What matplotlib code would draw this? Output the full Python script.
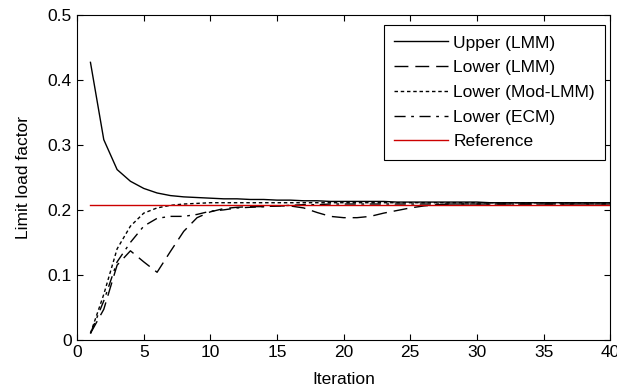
import matplotlib
matplotlib.use("Agg")
import matplotlib.pyplot as plt
import numpy as np

plt.rcParams["font.family"] = ["Liberation Sans", "DejaVu Sans"]

iterations = np.arange(1, 41)

upper_lmm = [0.427, 0.308, 0.262, 0.244, 0.233, 0.226, 0.222, 0.220, 0.219, 0.218,
             0.217, 0.217, 0.216, 0.216, 0.215, 0.215, 0.214, 0.214, 0.213, 0.213,
             0.213, 0.213, 0.213, 0.212, 0.212, 0.212, 0.212, 0.212, 0.212, 0.212,
             0.211, 0.211, 0.211, 0.211, 0.211, 0.211, 0.211, 0.211, 0.211, 0.211]

lower_lmm = [0.010, 0.047, 0.115, 0.137, 0.120, 0.104, 0.136, 0.167, 0.188, 0.197,
             0.202, 0.204, 0.205, 0.205, 0.206, 0.206, 0.203, 0.196, 0.190, 0.188,
             0.188, 0.190, 0.195, 0.199, 0.203, 0.206, 0.208, 0.209, 0.209, 0.209,
             0.209, 0.209, 0.209, 0.209, 0.209, 0.209, 0.209, 0.209, 0.209, 0.209]

lower_mod_lmm = [0.010, 0.070, 0.140, 0.175, 0.195, 0.203, 0.207, 0.209, 0.210, 0.211,
                 0.211, 0.211, 0.211, 0.211, 0.211, 0.211, 0.211, 0.211, 0.211, 0.211,
                 0.211, 0.211, 0.211, 0.211, 0.211, 0.211, 0.211, 0.211, 0.211, 0.211,
                 0.211, 0.211, 0.211, 0.211, 0.211, 0.211, 0.211, 0.211, 0.211, 0.211]

lower_ecm = [0.010, 0.060, 0.120, 0.150, 0.175, 0.187, 0.190, 0.190, 0.193, 0.198,
             0.200, 0.203, 0.204, 0.205, 0.206, 0.207, 0.208, 0.208, 0.209, 0.209,
             0.209, 0.209, 0.209, 0.209, 0.209, 0.209, 0.209, 0.209, 0.209, 0.209,
             0.209, 0.209, 0.209, 0.209, 0.209, 0.209, 0.209, 0.209, 0.209, 0.209]

reference = 0.207

fig = plt.figure(figsize=(6.17, 3.92), dpi=100)
ax = fig.add_axes([0.125, 0.133, 0.864, 0.829])

ax.plot(iterations, upper_lmm, color="black", linestyle="-", linewidth=1.0, label="Upper (LMM)")
ax.plot(iterations, lower_lmm, color="black", linestyle=(0, (10, 5)), linewidth=1.0, label="Lower (LMM)")
ax.plot(iterations, lower_mod_lmm, color="black", linestyle=(0, (2.5, 2)), linewidth=1.0, label="Lower (Mod-LMM)")
ax.plot(iterations, lower_ecm, color="black", linestyle=(0, (8, 4, 2, 4)), linewidth=1.0, label="Lower (ECM)")
ax.plot([1, 40], [reference, reference], color="#cc0000", linewidth=1.0, label="Reference")

ax.set_xlim(0, 40)
ax.set_ylim(0, 0.5)
ax.set_xticks(np.arange(0, 41, 5))
ax.set_yticks(np.arange(0, 0.51, 0.1))
ax.set_yticklabels(["0", "0.1", "0.2", "0.3", "0.4", "0.5"])
ax.tick_params(direction="in", top=True, right=True, labelsize=12.5, length=4, pad=4)
ax.set_xlabel("Iteration", fontsize=12.5, labelpad=8)
ax.set_ylabel("Limit load factor", fontsize=12.5, labelpad=12)

leg = ax.legend(loc="upper right", bbox_to_anchor=(0.991, 0.969), fontsize=12.5,
                fancybox=False, edgecolor="black", framealpha=1, handlelength=3.1,
                handletextpad=0.3, borderaxespad=0, labelspacing=0.55, borderpad=0.6)
leg.get_frame().set_linewidth(0.8)

fig.savefig("out.png", dpi=100)
